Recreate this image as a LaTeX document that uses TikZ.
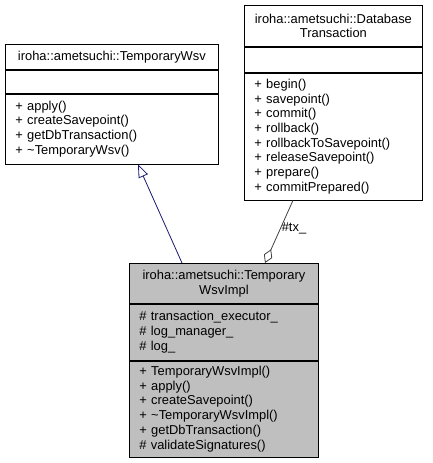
\documentclass[tikz,border=0pt]{standalone}
\usepackage{fontspec}
\setmainfont{Liberation Sans}
\usetikzlibrary{arrows.meta,calc}
\definecolor{inhcol}{RGB}{25,25,112}
\definecolor{aggcol}{RGB}{64,64,64}
\definecolor{implfill}{RGB}{191,191,191}
\begin{document}
\begin{tikzpicture}[x=1pt,y=-1pt,
  font=\fontsize{12.9}{14.7}\selectfont,
  comp/.style={draw=black, line width=0.8pt, anchor=north west,
    inner xsep=10pt, inner ysep=0pt, align=left},
  ttl/.style={comp, align=center},
  inh/.style={draw=inhcol, line width=0.8pt, -{Triangle[open,length=13pt,width=10pt]}},
  agg/.style={draw=aggcol, line width=0.8pt, -{Diamond[open,length=15pt,width=9pt]}}]
\useasboundingbox (0,0) rectangle (432,463);

% TemporaryWsv
\node[ttl, text width=193pt, minimum height=25pt] (A1) at (5,44)
  {iroha::ametsuchi::TemporaryWsv};
\node[comp, text width=193pt, minimum height=23pt] (A2) at (A1.south west) {};
\node[comp, text width=193pt, minimum height=70pt] (A3) at (A2.south west)
  {+ apply()\\+ createSavepoint()\\+ getDbTransaction()\\+ \textasciitilde TemporaryWsv()};

% DatabaseTransaction
\node[ttl, text width=158pt, minimum height=41pt] (B1) at (244,5)
  {iroha::ametsuchi::Database\\Transaction};
\node[comp, text width=158pt, minimum height=25pt] (B2) at (B1.south west) {};
\node[comp, text width=158pt, minimum height=127pt] (B3) at (B2.south west)
  {+ begin()\\+ savepoint()\\+ commit()\\+ rollback()\\+ rollbackToSavepoint()\\+ releaseSavepoint()\\+ prepare()\\+ commitPrepared()};

% TemporaryWsvImpl
\node[ttl, fill=implfill, text width=169pt, minimum height=40pt] (C1) at (129,263)
  {iroha::ametsuchi::Temporary\\WsvImpl};
\node[comp, fill=implfill, text width=169pt, minimum height=56pt] (C2) at (C1.south west)
  {\# transaction\_executor\_\\\# log\_manager\_\\\# log\_};
\node[comp, fill=implfill, text width=169pt, minimum height=96pt] (C3) at (C2.south west)
  {+ TemporaryWsvImpl()\\+ apply()\\+ createSavepoint()\\+ \textasciitilde TemporaryWsvImpl()\\+ getDbTransaction()\\\# validateSignatures()};

% connectors
\draw[inh] ($(C1.north west)+(53,0)$) -- ($(A3.south west)+(133,0)$);
\draw[agg] ($(B3.south west)+(49,0)$) -- node[right, pos=0.45, inner sep=1pt] (txlabel) {\#tx\_} ($(C1.north west)+(136,0)$);
\end{tikzpicture}
\end{document}
